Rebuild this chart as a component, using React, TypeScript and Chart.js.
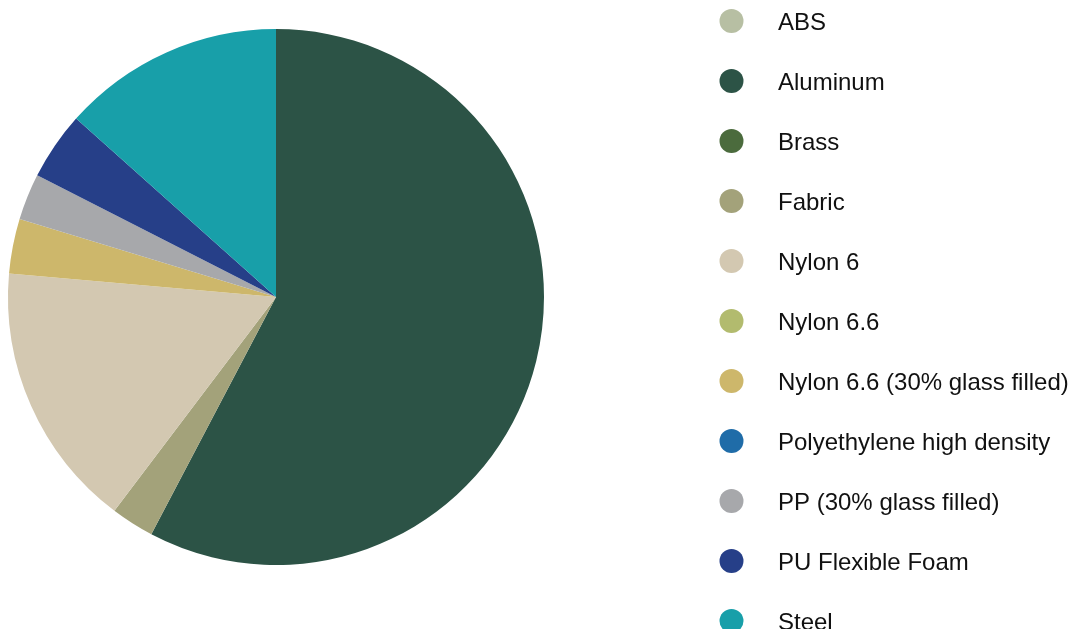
import React, { useEffect, useRef } from "react";
import { Chart, registerables } from "chart.js";

Chart.register(...registerables);

const materials: string[] = [
  "ABS",
  "Aluminum",
  "Brass",
  "Fabric",
  "Nylon 6",
  "Nylon 6.6",
  "Nylon 6.6 (30% glass filled)",
  "Polyethylene high density",
  "PP (30% glass filled)",
  "PU Flexible Foam",
  "Steel",
];

const shares: number[] = [0, 57.7, 0, 2.6, 16.1, 0, 3.3, 0, 2.8, 4.1, 13.4];

const colors: string[] = [
  "#b7bfa3",
  "#2c5346",
  "#4b6b3d",
  "#a3a27a",
  "#d3c8b1",
  "#b2bb6e",
  "#cdb76b",
  "#1f6ca8",
  "#a7a8ab",
  "#263f88",
  "#189fa9",
];

const sideLegend = {
  id: "sideLegend",
  afterDraw(chart: any) {
    const ctx = chart.ctx as CanvasRenderingContext2D;
    const labels = chart.data.labels as string[];
    const bg = chart.data.datasets[0].backgroundColor as string[];
    ctx.save();
    ctx.font = "24px 'Liberation Sans', Arial, Helvetica, sans-serif";
    ctx.textAlign = "left";
    ctx.textBaseline = "alphabetic";
    labels.forEach((label, i) => {
      const cy = 21 + 60 * i;
      ctx.beginPath();
      ctx.fillStyle = bg[i];
      ctx.arc(731.5, cy, 12, 0, Math.PI * 2);
      ctx.fill();
      ctx.fillStyle = "#111111";
      ctx.fillText(label, 778, cy + 9);
    });
    ctx.restore();
  },
};

export default function App() {
  const canvasRef = useRef<HTMLCanvasElement | null>(null);

  useEffect(() => {
    if (!canvasRef.current) return;
    const chart = new Chart(canvasRef.current, {
      type: "pie",
      data: {
        labels: materials,
        datasets: [
          {
            data: shares,
            backgroundColor: colors,
            borderWidth: 0,
            hoverOffset: 0,
          },
        ],
      },
      options: {
        animation: false,
        responsive: false,
        maintainAspectRatio: false,
        layout: { padding: { left: 8, top: 29, right: 527, bottom: 64 } },
        plugins: {
          legend: { display: false },
          tooltip: { enabled: false },
          title: { display: false },
        },
      },
      plugins: [sideLegend],
    });
    return () => chart.destroy();
  }, []);

  return (
    <div
      style={{
        position: "fixed",
        left: 0,
        top: 0,
        width: 1071,
        height: 629,
        overflow: "hidden",
        background: "#ffffff",
      }}
    >
      <canvas ref={canvasRef} width={1071} height={629} style={{ display: "block" }} />
    </div>
  );
}
